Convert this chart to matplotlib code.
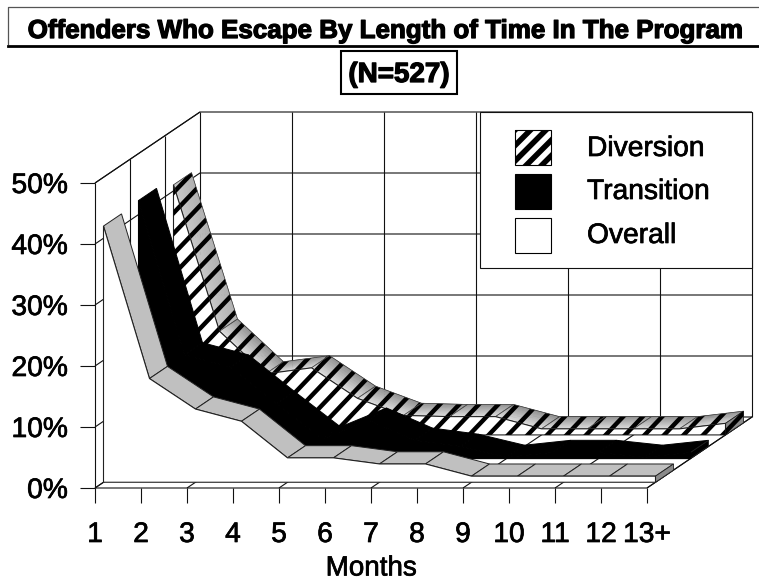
import numpy as np
import matplotlib
matplotlib.use('Agg')
import matplotlib.pyplot as plt
import matplotlib.patheffects as pe
from matplotlib.patches import Polygon, Rectangle
from matplotlib.collections import LineCollection

# ---- data (percent of offenders) ----
months = ['1', '2', '3', '4', '5', '6', '7', '8', '9', '10', '11', '12', '13+']
pct_ticks = [0, 10, 20, 30, 40, 50]
overall = [42, 17, 12, 10, 4, 4, 3, 3, 1, 1, 1, 1, 1]
transition = [42.3, 17, 15, 9, 3.2, 6.3, 3, 2, 0.2, 1, 1, 0.2, 1]
diversion = [41, 17, 10, 11, 6, 3.2, 3, 3, 1, 1, 1, 1, 1.9]
legend_names = ['Diversion', 'Transition', 'Overall']

plt.rcParams['font.family'] = ['Liberation Sans', 'DejaVu Sans']
fig = plt.figure(figsize=(7.59, 5.82), dpi=100, facecolor='white')
ax = fig.add_axes([0, 0, 1, 1])
ax.set_xlim(0, 759)
ax.set_ylim(582, 0)
ax.axis('off')

# ---- oblique projection of (category, percent, depth) to the canvas ----
X0, Y0 = 95.0, 488.0
CAT_W = 46.0
PCT_H = 6.1
DEPTH_X, DEPTH_Y = 105.0, 71.0
RIBBON = 18.0 / 105.0
LW = 0.8
INK = '#111111'
HEAVY = [pe.withStroke(linewidth=0.5, foreground='black')]
HEAVIER = [pe.withStroke(linewidth=0.9, foreground='black')]


def proj(cat, pct, depth):
    return (X0 + cat * CAT_W + depth * DEPTH_X,
            Y0 - pct * PCT_H - depth * DEPTH_Y)


def line(pts, lw=LW, color=INK, z=1):
    xs, ys = zip(*pts)
    ax.plot(xs, ys, color=color, lw=lw, zorder=z, solid_capstyle='butt')


n = len(months)
last = n - 1
top = pct_ticks[-1]

# walls and floor
ax.add_patch(Polygon([proj(0, 0, 0), proj(last, 0, 0), proj(last, 0, 1), proj(0, 0, 1)],
                     fc='white', ec='none', zorder=0))
for p in pct_ticks:
    line([proj(0, p, 0), proj(0, p, 1), proj(last, p, 1)])
    line([(X0 - 15, proj(0, p, 0)[1]), proj(0, p, 0)])
for c in range(0, n, 2):
    line([proj(c, 0, 1), proj(c, top, 1)])
    line([proj(c, 0, 0), proj(c, 0, 1)])
for c in range(n):
    x, y = proj(c, 0, 0)
    line([(x, y), (x, y + 15)])
for d in (0, 1 / 3, 2 / 3):
    line([proj(0, top, d), proj(0, 0, d)])
line([proj(0, top, 0), proj(0, top, 1)])
line([proj(0, 0, 0), proj(last, 0, 0), proj(last, 0, 1)])


def stripes(patch, z, period=19.5, width=3.2):
    slope = 1.05
    # every stripe sits on a fixed lattice so it runs on across faces
    segs = [[(k * period, 600), (k * period + 700 / slope, -100)] for k in range(-30, 50)]
    lc = LineCollection(segs, colors='black', linewidths=width, zorder=z)
    ax.add_collection(lc, autolim=False)
    lc.set_clip_path(patch)


def ribbon(vals, row, z, hatch=False, top_col='#c0c0c0', front_col='white', side_col='#8a8a8a'):
    d0 = (row + 0.5) / 3 - RIBBON / 2
    d1 = d0 + RIBBON
    zz = z
    for i in range(len(vals) - 1):
        a, b = vals[i], vals[i + 1]
        quad = [proj(i, a, d0), proj(i + 1, b, d0), proj(i + 1, b, d1), proj(i, a, d1)]
        if hatch:
            steep = abs(a - b) > 8
            hi, lo = (0.68, 0.78) if steep else (0.55, 0.86)
            strips = 8
            for s in range(strips):
                u0, u1 = s / strips, (s + 1) / strips
                da, db = d0 + RIBBON * u0, d0 + RIBBON * u1
                shade = lo + (hi - lo) * u0
                ax.add_patch(Polygon([proj(i, a, da), proj(i + 1, b, da),
                                      proj(i + 1, b, db), proj(i, a, db)],
                                     fc=str(shade), ec=str(shade), lw=0.4, zorder=zz))
            outline = Polygon(quad, fc='none', ec='#333333', lw=0.5, zorder=zz + 0.2)
            ax.add_patch(outline)
            stripes(Polygon(quad, transform=ax.transData), zz + 0.1)
        else:
            edge = 'black' if top_col == 'black' else '#222222'
            ax.add_patch(Polygon(quad, fc=top_col, ec=edge, lw=0.7, zorder=zz))
        zz += 0.5
    e = len(vals) - 1
    side = Polygon([proj(e, 0, d0), proj(e, vals[e], d0), proj(e, vals[e], d1), proj(e, 0, d1)],
                   fc=side_col, ec='#222222', lw=0.6, zorder=zz)
    ax.add_patch(side)
    if hatch:
        stripes(Polygon(side.get_xy(), transform=ax.transData), zz + 0.1)
    zz += 0.5
    front_pts = [proj(0, 0, d0)] + [proj(i, v, d0) for i, v in enumerate(vals)] + [proj(e, 0, d0)]
    ax.add_patch(Polygon(front_pts, fc=front_col,
                         ec='black' if front_col == 'black' else '#222222',
                         lw=0.8, zorder=zz))
    if hatch:
        stripes(Polygon(front_pts, transform=ax.transData), zz + 0.1)


ribbon(diversion, 2, 10, hatch=True)
ribbon(transition, 1, 30, top_col='black', front_col='black', side_col='black')
ribbon(overall, 0, 50)

# legend
Z = 80
ax.add_patch(Rectangle((480, 112), 272, 156, fc='white', ec=INK, lw=LW, zorder=Z))
sw_y = [130, 174, 218]
sw_text = [149, 192, 236]
for k, name in enumerate(legend_names):
    r = Rectangle((515, sw_y[k]), 36, 35, transform=ax.transData,
                  fc='black' if name == 'Transition' else 'white',
                  ec='black', lw=0.8, zorder=Z + 1)
    ax.add_patch(r)
    if name == 'Diversion':
        r2 = Polygon(r.get_corners(), transform=ax.transData)
        segs = [[(515 + q * 15.5 - 40, sw_y[k] + 40), (515 + q * 15.5 + 5, sw_y[k] - 5)] for q in range(0, 7)]
        lc = LineCollection(segs, colors='black', linewidths=4.0, zorder=Z + 2)
        ax.add_collection(lc, autolim=False)
        lc.set_clip_path(r2)
    ax.text(587, sw_text[k], name, fontsize=20.3, va='center', ha='left', color='black',
            zorder=Z + 3, path_effects=HEAVY)

# tick labels
for p in pct_ticks:
    ax.text(68, proj(0, p, 0)[1] + 3, f'{p}%', fontsize=20.3, ha='right', va='center',
            color='black', path_effects=HEAVY)
for i, m in enumerate(months):
    ax.text(X0 + i * CAT_W, 535, m, fontsize=20.3, ha='center', va='center', color='black',
            path_effects=HEAVY)
ax.text(371, 568.5, 'Months', fontsize=20, ha='center', va='center', color='black',
        path_effects=HEAVY)

# title block
ax.plot([8, 8, 759], [44, 7, 7], color='#555555', lw=0.9, zorder=90)
ax.plot([8, 759], [45.5, 45.5], color='black', lw=2.0, zorder=90)
ax.text(386, 31, 'Offenders Who Escape By Length of Time In The Program',
        fontsize=18.7, fontweight='bold', ha='center', va='center', color='black', zorder=91,
        path_effects=HEAVIER)
ax.add_patch(Rectangle((341, 51), 116, 43, fc='white', ec='black', lw=1.5, zorder=90))
ax.text(399, 75, '(N=527)', fontsize=20, fontweight='bold', ha='center', va='center',
        color='black', zorder=91, path_effects=HEAVIER)

fig.savefig('out.png', dpi=100)
